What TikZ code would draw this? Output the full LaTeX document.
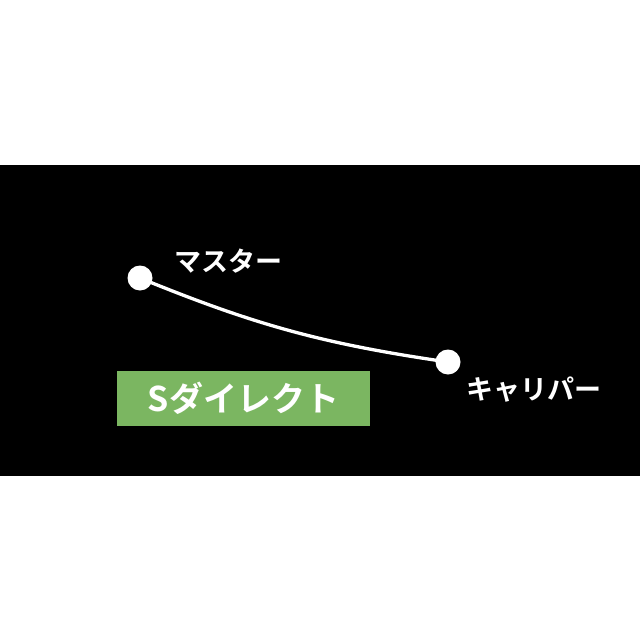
\documentclass[tikz,border=0pt]{standalone}
\usepackage{fontspec}
\newfontfamily\jpfont{Noto Sans CJK JP}[BoldFont={* Bold}]
\definecolor{boxgreen}{HTML}{7BB661}
\begin{document}
\begin{tikzpicture}[x=1pt,y=-1pt,
  endpt/.style={circle,fill=white,draw=none,minimum size=25pt,inner sep=0pt},
  lbl/.style={text=white,font=\jpfont\bfseries\fontsize{27}{30}\selectfont,inner sep=0pt},
  tag/.style={fill=boxgreen,text=white,font=\jpfont\bfseries\fontsize{34}{38}\selectfont,
    minimum width=253pt,minimum height=55pt,inner sep=0pt}]
\useasboundingbox (0,0) rectangle (640,640);
\fill[white] (0,0) rectangle (640,640);
\fill[black] (0,165) rectangle (640,476);
\node[endpt] (m) at (140,278) {};
\node[endpt] (c) at (448,362) {};
\draw[white,line width=3.3pt] (m.center) to[bend right=7] (c.center);
\node[lbl] (ml) at (228,261) {マスター};
\node[lbl] (cl) at (534,390) {キャリパー};
\node[tag] (s) at (243.5,398) {Sダイレクト};
\end{tikzpicture}
\end{document}
